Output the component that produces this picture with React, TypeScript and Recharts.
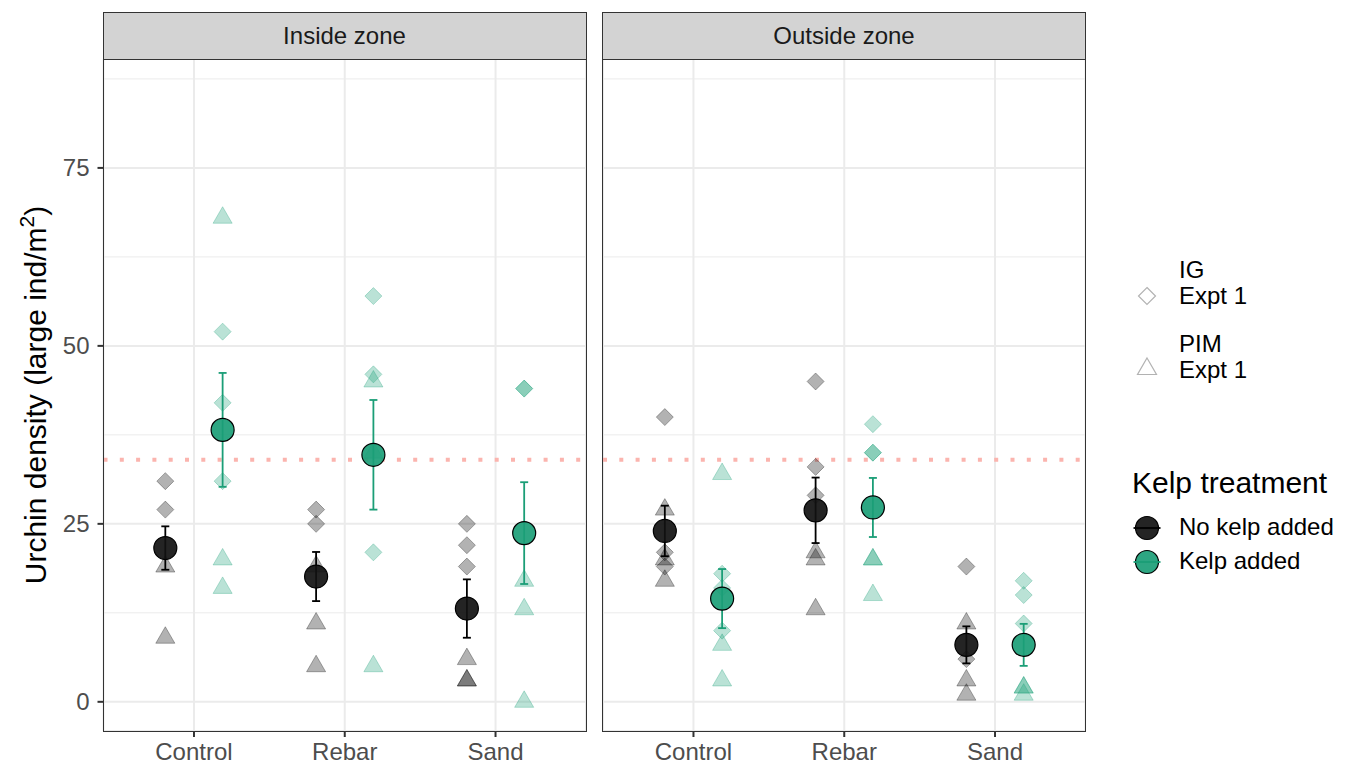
import React from 'react'
import {
  ScatterChart,
  Scatter,
  XAxis,
  YAxis,
  CartesianGrid,
  ReferenceLine,
  ErrorBar,
} from 'recharts'

const FONT = '"Liberation Sans", Arial, Helvetica, sans-serif'

// ─── Data ─────────
const categories = ['Control', 'Rebar', 'Sand']
const zones = ['Inside zone', 'Outside zone']

// site values, [zone][category][...]
const igNoKelp = [
  [[31, 27], [27, 25], [25, 22, 19]],
  [[40, 21, 19], [45, 33, 29], [19, 6]],
]
const pimNoKelp = [
  [[19, 9], [19, 11, 5], [6, 3, 3]],
  [[27, 20, 17], [21, 20, 13], [11, 3, 1]],
]
const igKelp = [
  [[52, 42, 31], [57, 46, 21], [44, 44]],
  [[18, 16, 10], [39, 35, 35], [17, 15, 11]],
]
const pimKelp = [
  [[68, 20, 16], [45, 35, 5], [17, 13, 0]],
  [[32, 8, 3], [20, 20, 15], [2, 2, 1]],
]

// treatment means and standard errors, [zone][category]
const meanNoKelp = [[21.6, 17.6, 13.1], [24.0, 26.9, 8.0]]
const seNoKelp = [[3.05, 3.45, 4.1], [3.55, 4.6, 2.6]]
const meanKelp = [[38.2, 34.7, 23.7], [14.5, 27.3, 8.0]]
const seKelp = [[8.0, 7.7, 7.15], [4.15, 4.15, 2.95]]

const yTicks = [0, 25, 50, 75]
const yMinor = [12.5, 37.5, 62.5, 87.5]
const xTicks = [1, 2, 3]
const refLine = 34

// ─── Styles ─────────
const GREEN = '#1B9E77'
const DODGE = 0.19
const Y_DOMAIN: [number, number] = [-4.1, 90.3]
const X_DOMAIN: [number, number] = [0.4, 3.6]
const FAINT_BLACK = 'rgba(0,0,0,0.3)'
const FAINT_GREEN = 'rgba(27,158,119,0.3)'

function toPoints(byCat: number[][], offset: number) {
  return byCat.flatMap((vals, ci) => vals.map((v) => ({ x: ci + 1 + offset, y: v })))
}

function toMeans(means: number[], ses: number[], offset: number) {
  return means.map((m, ci) => ({ x: ci + 1 + offset, y: m, se: ses[ci] }))
}

const diamondShape = (color: string) => (props: any) => {
  const { cx, cy } = props
  const r = 8.5
  return (
    <path
      d={`M${cx},${cy - r}L${cx + r},${cy}L${cx},${cy + r}L${cx - r},${cy}Z`}
      fill={color}
      stroke={color}
      strokeWidth={1}
    />
  )
}

const triangleShape = (color: string) => (props: any) => {
  const { cx, cy } = props
  const r = 11
  const hw = r * 0.866
  return (
    <path
      d={`M${cx},${cy - r}L${cx + hw},${cy + r / 2}L${cx - hw},${cy + r / 2}Z`}
      fill={color}
      stroke={color}
      strokeWidth={1}
    />
  )
}

const meanShape = (fill: string) => (props: any) => {
  const { cx, cy } = props
  return <circle cx={cx} cy={cy} r={11.5} fill={fill} fillOpacity={0.92} stroke="#000" strokeWidth={1.2} />
}

const emptyShape = () => <g />

const tickStyle = { fill: '#4D4D4D', fontSize: 24, fontFamily: FONT }

function Panel({ zi, showY, width }: { zi: number; showY: boolean; width: number }) {
  return (
    <ScatterChart width={width} height={766} margin={{ top: 59, right: 0, bottom: 0, left: 0 }}>
      <CartesianGrid stroke="#EBEBEB" strokeWidth={2} />
      {yMinor.map((v) => (
        <ReferenceLine key={v} y={v} stroke="#EBEBEB" strokeWidth={1} />
      ))}
      <XAxis
        type="number"
        dataKey="x"
        domain={X_DOMAIN}
        ticks={xTicks}
        interval={0}
        allowDataOverflow
        tickFormatter={(v) => categories[Math.round(v) - 1]}
        axisLine={false}
        tickLine={{ stroke: '#333333', strokeWidth: 2 }}
        tickSize={6}
        tickMargin={6}
        height={35}
        tick={tickStyle}
      />
      <YAxis
        type="number"
        dataKey="y"
        domain={Y_DOMAIN}
        ticks={yTicks}
        allowDataOverflow
        hide={!showY}
        width={showY ? 103.5 : 0}
        axisLine={false}
        tickLine={{ stroke: '#333333', strokeWidth: 2 }}
        tickSize={6}
        tickMargin={8}
        tick={tickStyle}
      />
      <ReferenceLine y={refLine} stroke="#FBB4AE" strokeWidth={4} strokeDasharray="4 12.3" />
      <Scatter data={toPoints(igNoKelp[zi], -DODGE)} shape={diamondShape(FAINT_BLACK)} isAnimationActive={false} />
      <Scatter data={toPoints(pimNoKelp[zi], -DODGE)} shape={triangleShape(FAINT_BLACK)} isAnimationActive={false} />
      <Scatter data={toPoints(igKelp[zi], DODGE)} shape={diamondShape(FAINT_GREEN)} isAnimationActive={false} />
      <Scatter data={toPoints(pimKelp[zi], DODGE)} shape={triangleShape(FAINT_GREEN)} isAnimationActive={false} />
      <Scatter data={toMeans(meanNoKelp[zi], seNoKelp[zi], -DODGE)} shape={meanShape('#111111')} isAnimationActive={false} />
      <Scatter data={toMeans(meanKelp[zi], seKelp[zi], DODGE)} shape={meanShape(GREEN)} isAnimationActive={false} />
      <Scatter data={toMeans(meanNoKelp[zi], seNoKelp[zi], -DODGE)} shape={emptyShape} isAnimationActive={false}>
        <ErrorBar dataKey="se" direction="y" width={4} stroke="#000" strokeWidth={1.8} />
      </Scatter>
      <Scatter data={toMeans(meanKelp[zi], seKelp[zi], DODGE)} shape={emptyShape} isAnimationActive={false}>
        <ErrorBar dataKey="se" direction="y" width={4} stroke={GREEN} strokeWidth={1.8} />
      </Scatter>
    </ScatterChart>
  )
}

const abs = (left: number, top: number, extra: React.CSSProperties = {}): React.CSSProperties => ({
  position: 'absolute',
  left,
  top,
  ...extra,
})

function Strip({ left, label }: { left: number; label: string }) {
  return (
    <div
      style={abs(left, 12, {
        width: 484,
        height: 48,
        boxSizing: 'border-box',
        border: '1.8px solid #333333',
        background: '#D3D3D3',
        color: '#1A1A1A',
        fontSize: 24,
        lineHeight: '46px',
        textAlign: 'center',
      })}
    >
      {label}
    </div>
  )
}

function Border({ left }: { left: number }) {
  return (
    <div
      style={abs(left, 58.5, {
        width: 484,
        height: 673.5,
        boxSizing: 'border-box',
        border: '1.8px solid #333333',
        pointerEvents: 'none',
      })}
    />
  )
}

const legendText: React.CSSProperties = { fontSize: 24, lineHeight: '26px', color: '#000' }

export default function App() {
  return (
    <div style={{ position: 'absolute', left: 0, top: 0, width: 1351, height: 766, background: '#fff', fontFamily: FONT }}>
      <div style={abs(0, 0)}>
        <Panel zi={0} showY width={586} />
      </div>
      <div style={abs(603, 0)}>
        <Panel zi={1} showY={false} width={482.5} />
      </div>
      <Strip left={102.5} label={zones[0]} />
      <Strip left={602} label={zones[1]} />
      <Border left={102.5} />
      <Border left={602} />

      {/* y axis title */}
      <div
        style={abs(36 - 300, 395 - 18, {
          width: 600,
          height: 36,
          lineHeight: '36px',
          textAlign: 'center',
          fontSize: 30,
          transform: 'rotate(-90deg)',
          whiteSpace: 'nowrap',
        })}
      >
        Urchin density (large ind/m<sup style={{ fontSize: 21, lineHeight: 0, verticalAlign: '0.55em' }}>2</sup>)
      </div>

      {/* shape legend */}
      <svg style={abs(1120, 250)} width={60} height={150}>
        <path d="M27,37.5L35.5,46L27,54.5L18.5,46Z" fill="none" stroke={FAINT_BLACK} strokeWidth={1.2} />
        <path d="M27,108L36.5,124.5L17.5,124.5Z" fill="none" stroke={FAINT_BLACK} strokeWidth={1.2} />
      </svg>
      <div style={abs(1179, 257, legendText)}>
        IG
        <br />
        Expt 1
      </div>
      <div style={abs(1179, 331, legendText)}>
        PIM
        <br />
        Expt 1
      </div>

      {/* kelp legend */}
      <div style={abs(1132, 466, { fontSize: 30, lineHeight: '34px' })}>Kelp treatment</div>
      <svg style={abs(1120, 505)} width={60} height={80}>
        <circle cx={27} cy={23} r={11.5} fill="#111111" fillOpacity={0.92} stroke="#000" strokeWidth={1.2} />
        <line x1={13.5} x2={40.5} y1={23} y2={23} stroke="#000" strokeWidth={1.8} />
        <circle cx={27} cy={57} r={11.5} fill={GREEN} fillOpacity={0.92} stroke="#000" strokeWidth={1.2} />
        <line x1={13.5} x2={40.5} y1={57} y2={57} stroke={GREEN} strokeWidth={1.8} />
      </svg>
      <div style={abs(1179, 514, legendText)}>No kelp added</div>
      <div style={abs(1179, 548, legendText)}>Kelp added</div>
    </div>
  )
}
